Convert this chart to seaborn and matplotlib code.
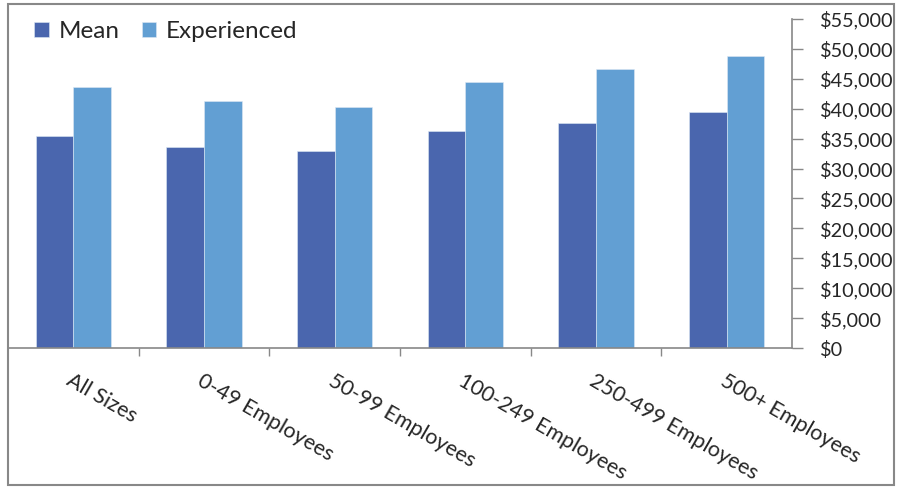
import numpy as np
import pandas as pd
import matplotlib.pyplot as plt
import seaborn as sns
from matplotlib.patches import Rectangle
from matplotlib.ticker import FuncFormatter, FixedLocator

# Data
categories = ['All Sizes', '0-49 Employees', '50-99 Employees', '100-249 Employees',
              '250-499 Employees', '500+ Employees']
mean_vals = [35400, 33600, 32900, 36300, 37600, 39500]
experienced_vals = [43600, 41300, 40300, 44500, 46700, 48800]

df = pd.DataFrame({
    'category': categories * 2,
    'series': ['Mean'] * len(categories) + ['Experienced'] * len(categories),
    'salary': mean_vals + experienced_vals,
})

sns.set_style('white')
plt.rcParams['font.family'] = ['Lato', 'DejaVu Sans']

fig = plt.figure(figsize=(8.97, 4.87), dpi=100)
ax = fig.add_axes([8 / 897, 1 - 348 / 487, (792 - 8) / 897, (348 - 19) / 487])

sns.barplot(data=df, x='category', y='salary', hue='series', ax=ax,
            palette=['#4A66AE', '#629FD3'], width=0.575, saturation=1,
            edgecolor='#dde8f4', linewidth=0.4)

ax.set_ylim(0, 55000)
ax.set_xlim(-0.5, len(categories) - 0.5)
ax.set_xlabel('')
ax.set_ylabel('')

# y axis on the right
ax.yaxis.tick_right()
ax.set_yticks(np.arange(0, 55001, 5000))
ax.yaxis.set_major_formatter(FuncFormatter(lambda v, p: f'${v:,.0f}'))
ax.tick_params(axis='y', direction='out', length=8, width=1, color='#888888',
               labelsize=14.3, pad=12, right=True, left=False)

# x ticks: marks between categories, labels rotated
ax.set_xticks(range(len(categories)))
ax.set_xticklabels(categories, rotation=-30, ha='left', rotation_mode='anchor', fontsize=15.5)
ax.tick_params(axis='x', which='major', length=0, pad=16)
ax.xaxis.set_minor_locator(FixedLocator(np.arange(0.5, len(categories) - 1, 1)))
ax.tick_params(axis='x', which='minor', direction='out', length=6, width=1,
               color='#888888', bottom=True)

for s in ['top', 'left']:
    ax.spines[s].set_visible(False)
for s in ['bottom', 'right']:
    ax.spines[s].set_color('#888888')
    ax.spines[s].set_linewidth(1.2)

ax.legend(loc='upper left', bbox_to_anchor=(0.012, 1.045), ncol=2, frameon=False,
          fontsize=17.5, handlelength=0.6, handleheight=0.6, handletextpad=0.4,
          columnspacing=0.9, borderaxespad=0.3)

# outer chart border
fig.add_artist(Rectangle((8 / 897, 1 - 485 / 487), (894 - 8) / 897, (485 - 4) / 487,
                         transform=fig.transFigure, fill=False,
                         edgecolor='#888888', linewidth=1.5))

fig.savefig('out.png', dpi=100)
